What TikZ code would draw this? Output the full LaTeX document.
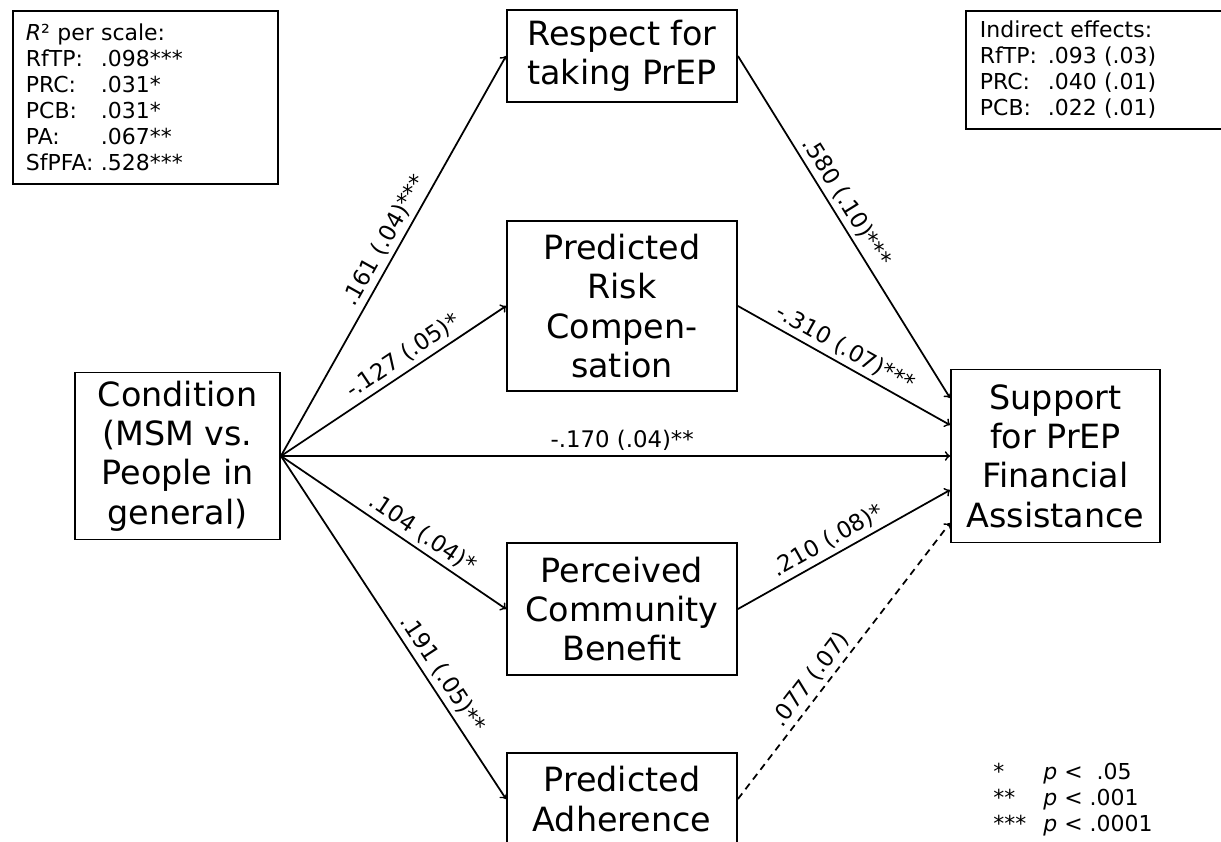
\documentclass[tikz,border=0pt]{standalone}
\usepackage{fontspec}
\setmainfont{DejaVu Sans}
\usetikzlibrary{arrows}

\begin{document}
\begin{tikzpicture}[x=0.02cm, y=-0.02cm,
  box/.style={draw, line width=1.1pt, align=center, inner sep=0pt, font=\fontsize{19}{22.4}\selectfont},
  infobox/.style={draw, line width=1.1pt, anchor=north west, align=left, font=\fontsize{12.5}{14.8}\selectfont},
  link/.style={->, line width=1pt},
  coef/.style={sloped, above, inner sep=2.5pt, font=\fontsize{13}{15}\selectfont}]
\useasboundingbox (0,0) rectangle (1221,842);
\clip (0,0) rectangle (1221,842);

% boxes
\node[box, minimum width=4.1cm, minimum height=3.34cm] (cond) at (177.5,456) {Condition\\(MSM vs.\\People in\\general)};
\node[box, minimum width=4.6cm, minimum height=1.84cm] (rftp) at (622,56) {Respect for\\taking PrEP};
\node[box, minimum width=4.6cm, minimum height=3.4cm] (prc) at (622,306) {Predicted\\Risk\\Compen-\\sation};
\node[box, minimum width=4.6cm, minimum height=2.64cm] (pcb) at (622,609) {Perceived\\Community\\Benefit};
\node[box, minimum width=4.6cm, minimum height=1.84cm] (pa) at (622,799) {Predicted\\Adherence};
\node[box, minimum width=4.18cm, minimum height=3.46cm] (sfpfa) at (1055.5,456) {Support\\for PrEP\\Financial\\Assistance};

% paths
\draw[link] (cond.east) -- node[coef, pos=.52] {.161 (.04)***} (rftp.west);
\draw[link] (cond.east) -- node[coef, pos=.58] {-.127 (.05)*} (prc.west);
\draw[link] (cond.east) -- node[coef, pos=.51] {-.170 (.04)**} (sfpfa.west);
\draw[link] (cond.east) -- node[coef, pos=.59] {.104 (.04)*} (pcb.west);
\draw[link] (cond.east) -- node[coef, pos=.66] {.191 (.05)**} (pa.west);
\draw[link] (rftp.east) -- node[coef, pos=.45] {.580 (.10)***} ([yshift=1.16cm]sfpfa.west);
\draw[link] (prc.east) -- node[coef, pos=.47] {-.310 (.07)***} ([yshift=0.62cm]sfpfa.west);
\draw[link] (pcb.east) -- node[coef, pos=.46] {.210 (.08)*} ([yshift=-0.68cm]sfpfa.west);
\draw[link, dash pattern=on 4pt off 3pt] (pa.east) -- node[coef, pos=.4] {.077 (.07)} ([yshift=-1.34cm]sfpfa.west);

% notes
\node[infobox, minimum width=5.3cm, minimum height=3.46cm, inner xsep=0.26cm, text width=4.78cm] (rsq) at (12,10)
  {\textit{R}² per scale:\\
   \makebox[1.5cm][l]{RfTP:}.098***\\
   \makebox[1.5cm][l]{PRC:}.031*\\
   \makebox[1.5cm][l]{PCB:}.031*\\
   \makebox[1.5cm][l]{PA:}.067**\\
   \makebox[1.5cm][l]{SfPFA:}.528***};
\node[infobox, minimum width=5.3cm, minimum height=2.36cm, inner xsep=0.28cm, text width=4.74cm] (indirect) at (965,10)
  {Indirect effects:\\
   \makebox[1.36cm][l]{RfTP:}.093 (.03)\\
   \makebox[1.36cm][l]{PRC:}.040 (.01)\\
   \makebox[1.36cm][l]{PCB:}.022 (.01)};
\node[anchor=west, align=left, inner sep=0pt, font=\fontsize{12.5}{14.8}\selectfont] (sig) at (993,800)
  {\makebox[1cm][l]{*}\textit{p} <\ \ .05\\
   \makebox[1cm][l]{**}\textit{p} < .001\\
   \makebox[1cm][l]{***}\textit{p} < .0001};
\end{tikzpicture}
\end{document}
